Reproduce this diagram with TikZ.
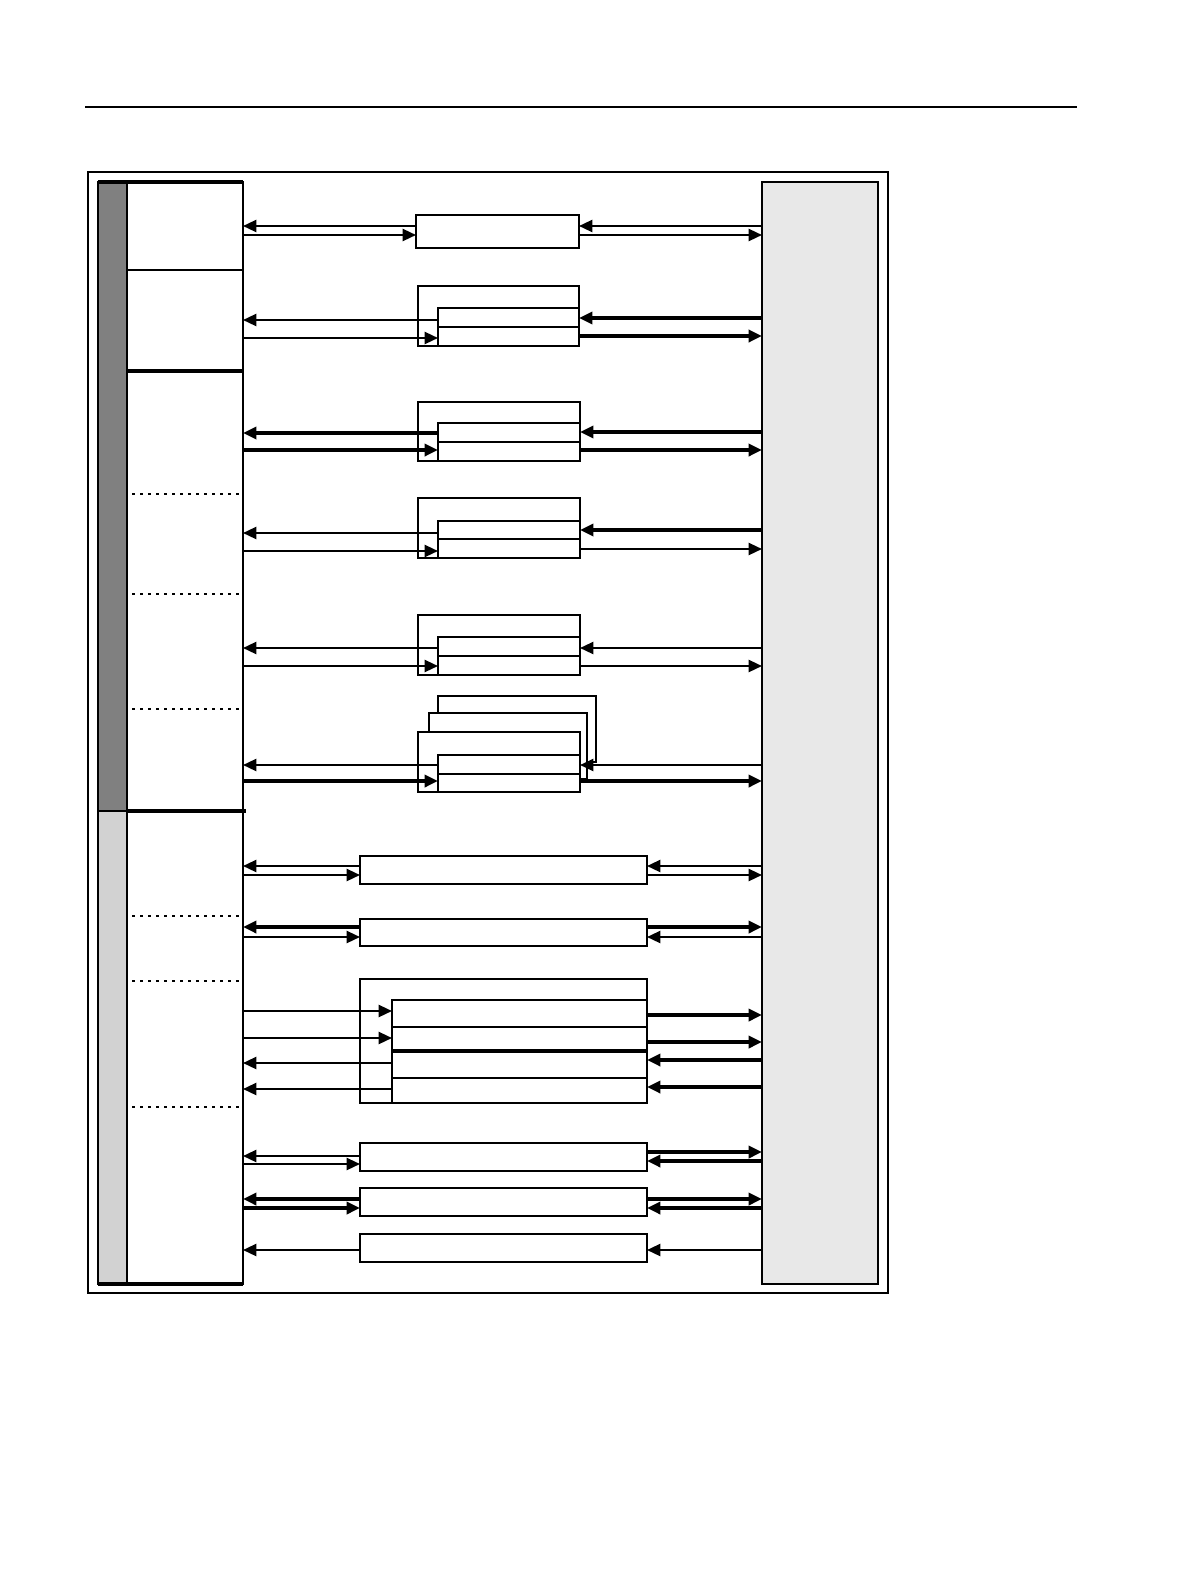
\documentclass[tikz,border=0pt]{standalone}
\usetikzlibrary{arrows.meta}
\definecolor{darkstrip}{HTML}{808080}
\definecolor{lightstrip}{HTML}{D2D2D2}
\definecolor{rightfill}{HTML}{E8E8E8}
\newcommand\bx[6][]{\node[rectangle, draw, line width=1.8pt, inner sep=0pt, outer sep=0pt, anchor=north west, minimum width={(#4-#2)*0.75pt}, minimum height={(#5-#3)*0.75pt}, #1] (#6) at (#2,#3) {};}
\newcommand\arr[4][]{\draw[arrowln,#1] (#2 |- 0,#4) -- (#3 |- 0,#4);}
\tikzset{
  arrowln/.style={-{Triangle[length=10pt,width=9pt]}, line width=1.7pt},
  thk/.style={line width=2.7pt},
  divsolid/.style={line width=1.8pt},
  divthick/.style={line width=2.6pt},
  divdot/.style={line width=2.2pt, dash pattern=on 2.2pt off 3.8pt},
  thinline/.style={line width=1pt},
  backbox/.style={line width=1pt, fill=white},
}
\begin{document}
\begin{tikzpicture}[x=0.75pt, y=-0.75pt]
\useasboundingbox (0,0) rectangle (1190,1584);
% page rule
\draw[line width=1.2pt] (85,107) -- (1077,107);
% outer frame
\bx[line width=1.1pt]{88}{172}{888}{1293}{frame}
% left strip and column
\bx[fill=darkstrip, line width=2.2pt]{98}{182}{127}{811}{sdark}
\bx[fill=lightstrip, line width=2.2pt]{98}{811}{127}{1284}{slight}
\bx[line width=1.4pt]{127}{182}{243}{1284}{L}
\draw[line width=2.6pt] (sdark.north west) -- (L.north east);
\draw[line width=2.6pt] (slight.south west) -- (L.south east);
% right box
\bx[fill=rightfill, line width=2.2pt]{762}{182}{878}{1284}{R}
% left column dividers
\draw[divsolid] (L.west |- 0,270) -- (L.east |- 0,270);
\draw[divthick] (L.west |- 0,371) -- (L.east |- 0,371);
\draw[divdot] ([xshift=4pt]L.west |- 0,494) -- (L.east |- 0,494);
\draw[divdot] ([xshift=4pt]L.west |- 0,594) -- (L.east |- 0,594);
\draw[divdot] ([xshift=4pt]L.west |- 0,709) -- (L.east |- 0,709);
\draw[divthick] (L.west |- 0,811) -- ([xshift=2pt]L.east |- 0,811);
\draw[divdot] ([xshift=4pt]L.west |- 0,916) -- (L.east |- 0,916);
\draw[divdot] ([xshift=4pt]L.west |- 0,981) -- (L.east |- 0,981);
\draw[divdot] ([xshift=4pt]L.west |- 0,1107) -- (L.east |- 0,1107);
% box 1
\bx{416}{215}{579}{248}{b1}
% box 2
\bx{418}{286}{579}{346}{b2o}
\bx{438}{308}{579}{346}{b2i}
\draw[divsolid] (b2i.west |- 0,327) -- (b2i.east |- 0,327);
% box 3
\bx{418}{402}{580}{461}{b3o}
\bx{438}{423}{580}{461}{b3i}
\draw[divsolid] (b3i.west |- 0,442) -- (b3i.east |- 0,442);
% box 4
\bx{418}{498}{580}{558}{b4o}
\bx{438}{521}{580}{558}{b4i}
\draw[thinline] (b4i.west |- 0,539) -- (b4i.east |- 0,539);
% box 5
\bx{418}{615}{580}{675}{b5o}
\bx{438}{637}{580}{675}{b5i}
\draw[divsolid] (b5i.west |- 0,656) -- (b5i.east |- 0,656);
% box 6 (stacked)
\bx[backbox]{438}{696}{596}{762}{b6c}
\bx[backbox]{429}{713}{587}{779}{b6b}
\bx[fill=white]{418}{732}{580}{792}{b6o}
\bx{438}{755}{580}{792}{b6i}
\draw[thinline] (b6i.west |- 0,774) -- (b6i.east |- 0,774);
% wide boxes
\bx{360}{856}{647}{884}{b7}
\bx{360}{919}{647}{946}{b8}
\bx{360}{979}{647}{1103}{b9o}
\bx{392}{1000}{647}{1103}{b9i}
\draw[divsolid] (b9i.west |- 0,1027) -- (b9i.east |- 0,1027);
\draw[divthick] (b9i.west |- 0,1051) -- (b9i.east |- 0,1051);
\draw[thinline] (b9i.west |- 0,1078) -- (b9i.east |- 0,1078);
\bx{360}{1143}{647}{1171}{b10}
\bx{360}{1188}{647}{1216}{b11}
\bx{360}{1234}{647}{1262}{b12}
% arrows box 1
\arr{b1.west}{L.east}{226}
\arr{L.east}{b1.west}{235}
\arr{R.west}{b1.east}{226}
\arr{b1.east}{R.west}{235}
% box 2
\arr{b2i.west}{L.east}{320}
\arr{L.east}{b2i.west}{338}
\arr[thk]{R.west}{b2o.east}{318}
\arr[thk]{b2o.east}{R.west}{336}
% box 3
\arr[thk]{b3i.west}{L.east}{433}
\arr[thk]{L.east}{b3i.west}{450}
\arr[thk]{R.west}{b3o.east}{432}
\arr[thk]{b3o.east}{R.west}{450}
% box 4
\arr{b4i.west}{L.east}{533}
\arr{L.east}{b4i.west}{551}
\arr[thk]{R.west}{b4o.east}{530}
\arr{b4o.east}{R.west}{549}
% box 5
\arr{b5i.west}{L.east}{648}
\arr{L.east}{b5i.west}{666}
\arr{R.west}{b5o.east}{648}
\arr{b5o.east}{R.west}{666}
% box 6
\arr{b6i.west}{L.east}{765}
\arr[thk]{L.east}{b6i.west}{781}
\arr{R.west}{b6o.east}{765}
\arr[thk]{b6o.east}{R.west}{781}
% box 7
\arr{b7.west}{L.east}{866}
\arr{L.east}{b7.west}{875}
\arr{R.west}{b7.east}{866}
\arr{b7.east}{R.west}{875}
% box 8
\arr[thk]{b8.west}{L.east}{927}
\arr{L.east}{b8.west}{937}
\arr[thk]{b8.east}{R.west}{927}
\arr{R.west}{b8.east}{937}
% box 9
\arr{L.east}{b9i.west}{1011}
\arr{L.east}{b9i.west}{1038}
\arr{b9i.west}{L.east}{1063}
\arr{b9i.west}{L.east}{1089}
\arr[thk]{b9o.east}{R.west}{1015}
\arr[thk]{b9o.east}{R.west}{1042}
\arr[thk]{R.west}{b9o.east}{1060}
\arr[thk]{R.west}{b9o.east}{1087}
% box 10
\arr{b10.west}{L.east}{1156}
\arr{L.east}{b10.west}{1164}
\arr[thk]{b10.east}{R.west}{1152}
\arr[thk]{R.west}{b10.east}{1161}
% box 11
\arr[thk]{b11.west}{L.east}{1199}
\arr[thk]{L.east}{b11.west}{1208}
\arr[thk]{b11.east}{R.west}{1199}
\arr[thk]{R.west}{b11.east}{1208}
% box 12
\arr{b12.west}{L.east}{1250}
\arr{R.west}{b12.east}{1250}
\end{tikzpicture}
\end{document}
